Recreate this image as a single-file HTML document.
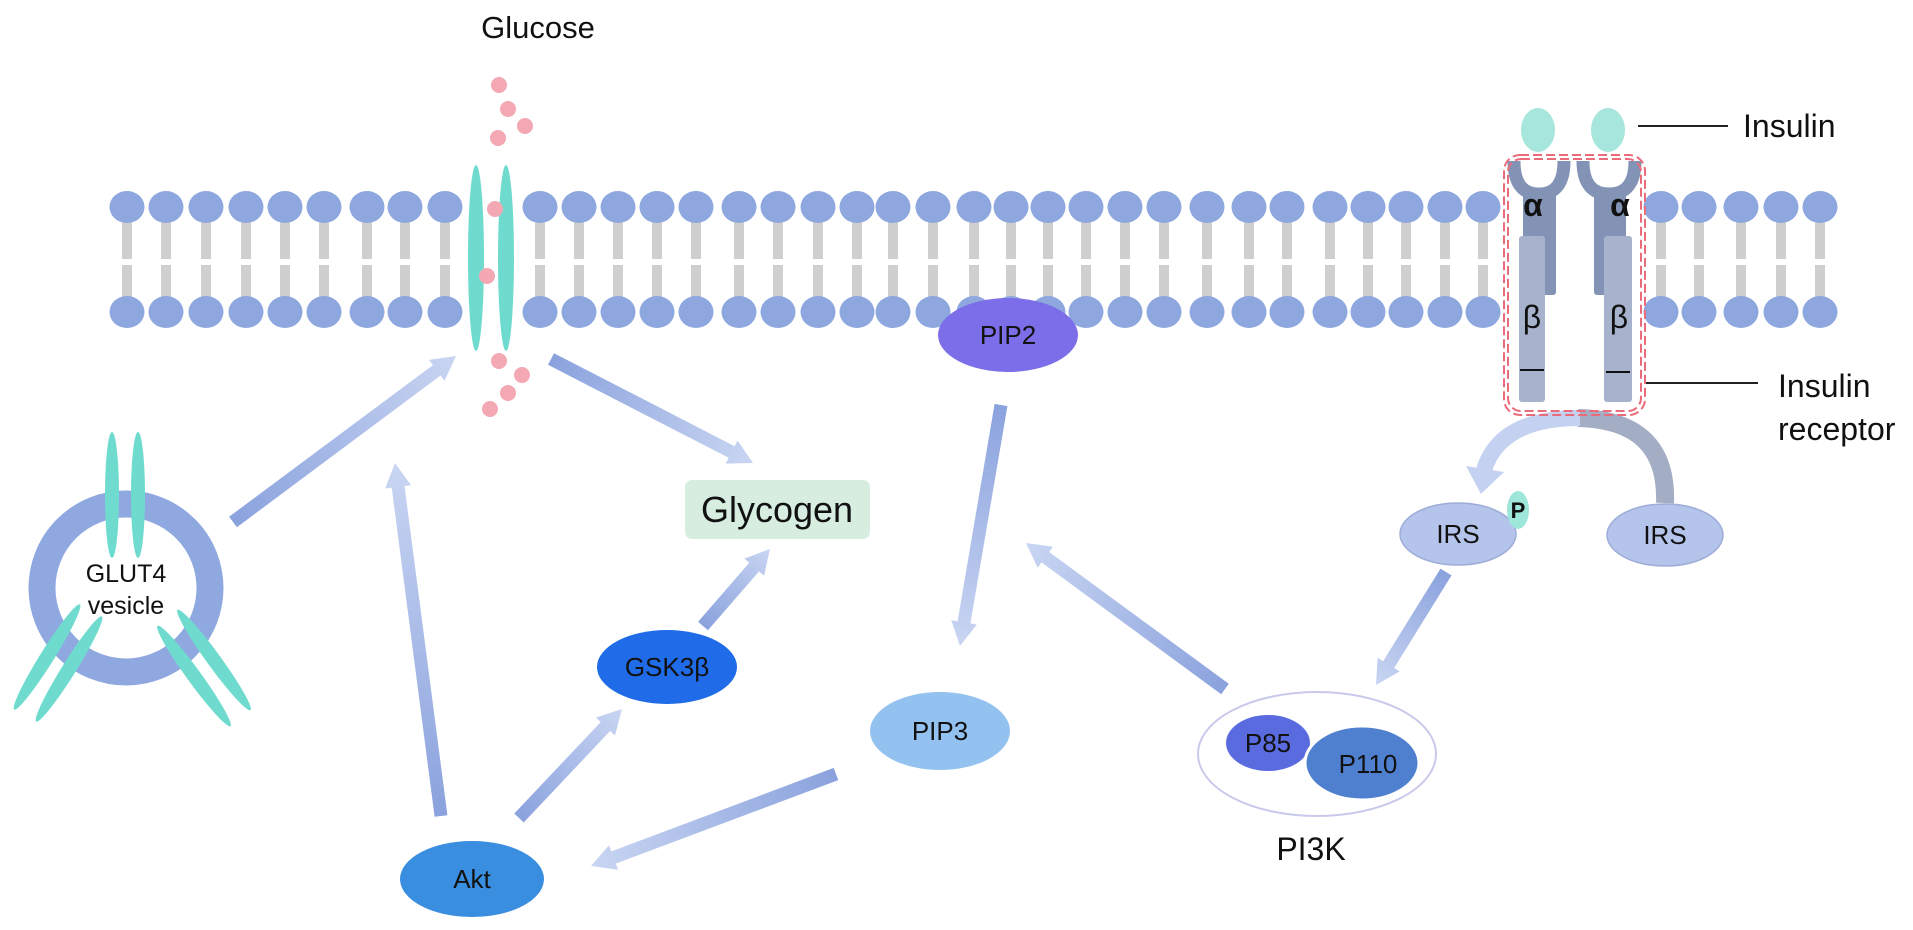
<!DOCTYPE html>
<html><head><meta charset="utf-8"><style>
html,body{margin:0;padding:0;background:#fff;}
svg{display:block;font-family:"Liberation Sans",Arial,sans-serif;}
</style></head><body>
<svg id="s" width="1913" height="930" viewBox="0 0 1913 930" xmlns="http://www.w3.org/2000/svg">
<g id="lip"></g>
<g id="arr"></g>
<!-- glucose transporter -->
<ellipse cx="476" cy="258" rx="8" ry="93" fill="#6fdbcf"/>
<ellipse cx="506" cy="258" rx="8" ry="93" fill="#6fdbcf"/>
<g fill="#f3a8b4">
<circle cx="499" cy="85" r="8"/><circle cx="508" cy="109" r="8"/><circle cx="525" cy="126" r="8"/><circle cx="498" cy="138" r="8"/>
<circle cx="495" cy="209" r="8"/><circle cx="487" cy="276" r="8"/>
<circle cx="499" cy="361" r="8"/><circle cx="522" cy="375" r="8"/><circle cx="508" cy="393" r="8"/><circle cx="490" cy="409" r="8"/>
</g>
<text x="538" y="38" font-size="31" text-anchor="middle" fill="#111">Glucose</text>
<!-- GLUT4 vesicle -->
<circle cx="126" cy="588" r="84" fill="none" stroke="#8fa8e0" stroke-width="27"/>
<ellipse cx="112" cy="495" rx="7" ry="63" fill="#6fdbcf"/>
<ellipse cx="138" cy="495" rx="7" ry="63" fill="#6fdbcf"/>
<ellipse cx="0" cy="0" rx="7" ry="62" fill="#6fdbcf" transform="translate(47,657) rotate(32)"/>
<ellipse cx="0" cy="0" rx="7" ry="62" fill="#6fdbcf" transform="translate(69,669) rotate(32)"/>
<ellipse cx="0" cy="0" rx="7" ry="62" fill="#6fdbcf" transform="translate(194,676) rotate(-36)"/>
<ellipse cx="0" cy="0" rx="7" ry="62" fill="#6fdbcf" transform="translate(214,660) rotate(-36)"/>
<text x="126" y="582" font-size="25" text-anchor="middle" fill="#111">GLUT4</text>
<text x="126" y="614" font-size="25" text-anchor="middle" fill="#111">vesicle</text>
<!-- Glycogen -->
<rect x="685" y="480" width="185" height="59" rx="7" fill="#d6eddf"/>
<text x="777" y="522" font-size="36" text-anchor="middle" fill="#111">Glycogen</text>
<!-- nodes -->
<ellipse cx="667" cy="667" rx="70" ry="37" fill="#1f6be8"/>
<text x="667" y="676" font-size="26" text-anchor="middle" fill="#111">GSK3β</text>
<ellipse cx="472" cy="879" rx="72" ry="38" fill="#3a8ee0"/>
<text x="472" y="888" font-size="26" text-anchor="middle" fill="#111">Akt</text>
<ellipse cx="940" cy="731" rx="70" ry="39" fill="#93c1f0"/>
<text x="940" y="740" font-size="26" text-anchor="middle" fill="#111">PIP3</text>
<ellipse cx="1008" cy="335" rx="70" ry="37" fill="#7b6ee8"/>
<text x="1008" y="344" font-size="26" text-anchor="middle" fill="#111">PIP2</text>
<!-- PI3K -->
<ellipse cx="1317" cy="754" rx="119" ry="62" fill="#fff" stroke="#c9c9ec" stroke-width="2"/>
<ellipse cx="1268" cy="743" rx="42" ry="28" fill="#5a6be0"/>
<ellipse cx="1362" cy="763" rx="57" ry="37" fill="#4f80d0" stroke="#fff" stroke-width="3"/>
<text x="1268" y="752" font-size="26" text-anchor="middle" fill="#111">P85</text>
<text x="1368" y="773" font-size="26" text-anchor="middle" fill="#111">P110</text>
<text x="1311" y="860" font-size="32" text-anchor="middle" fill="#111">PI3K</text>
<!-- curved arrows -->
<path d="M1665,503 Q1668,420 1578,418" fill="none" stroke="#a3adc4" stroke-width="18"/>
<path d="M1580,418 Q1500,418 1484,470" fill="none" stroke="#c5d1f0" stroke-width="16"/>
<polygon points="1466,466 1504,472 1481,494" fill="#c5d1f0"/>
<!-- IRS -->
<ellipse cx="1458" cy="534" rx="58" ry="31" fill="#b5c4ea" stroke="#9dadd8" stroke-width="1.5"/>
<text x="1458" y="543" font-size="26" text-anchor="middle" fill="#111">IRS</text>
<ellipse cx="1518" cy="510" rx="11" ry="19" fill="#9ee5da"/>
<text x="1518" y="518" font-size="22" font-weight="bold" text-anchor="middle" fill="#111">P</text>
<ellipse cx="1665" cy="535" rx="58" ry="31" fill="#b5c4ea" stroke="#9dadd8" stroke-width="1.5"/>
<text x="1665" y="544" font-size="26" text-anchor="middle" fill="#111">IRS</text>
<!-- receptor -->
<g>
<path d="M1514,161 Q1514,194 1539,194 Q1564,194 1564,161" fill="none" stroke="#8293b5" stroke-width="13"/>
<rect x="1523" y="192" width="33" height="103" rx="3" fill="#8293b5"/>
<rect x="1519" y="236" width="26" height="166" rx="3" fill="#a7b3cc"/>
<path d="M1583,161 Q1583,194 1609,194 Q1635,194 1635,161" fill="none" stroke="#8293b5" stroke-width="13"/>
<rect x="1594" y="192" width="32" height="103" rx="3" fill="#8293b5"/>
<rect x="1604" y="236" width="28" height="166" rx="3" fill="#a7b3cc"/>
<ellipse cx="1538" cy="130" rx="17" ry="22" fill="#a6e6dc"/>
<ellipse cx="1608" cy="130" rx="17" ry="22" fill="#a6e6dc"/>
<text x="1533" y="216" font-size="32" font-weight="bold" text-anchor="middle" fill="#111">α</text>
<text x="1620" y="216" font-size="32" font-weight="bold" text-anchor="middle" fill="#111">α</text>
<text x="1532" y="328" font-size="32" text-anchor="middle" fill="#111">β</text>
<text x="1619" y="328" font-size="32" text-anchor="middle" fill="#111">β</text>
<line x1="1520" y1="370" x2="1544" y2="370" stroke="#111" stroke-width="2"/>
<line x1="1606" y1="372" x2="1630" y2="372" stroke="#111" stroke-width="2"/>
<rect x="1504" y="155" width="141" height="260" rx="16" fill="none" stroke="#ea6c7a" stroke-width="2" stroke-dasharray="9,4"/>
<rect x="1508" y="159" width="133" height="252" rx="13" fill="none" stroke="#ea6c7a" stroke-width="2" stroke-dasharray="9,4"/>
</g>
<line x1="1638" y1="126" x2="1728" y2="126" stroke="#222" stroke-width="2"/>
<text x="1743" y="137" font-size="32" fill="#111">Insulin</text>
<line x1="1646" y1="383" x2="1758" y2="383" stroke="#222" stroke-width="2"/>
<text x="1778" y="397" font-size="32" fill="#111">Insulin</text>
<text x="1778" y="440" font-size="32" fill="#111">receptor</text>
<defs id="defs"></defs>
</svg>
<script>
var NS="http://www.w3.org/2000/svg";
function el(t,a,p){var e=document.createElementNS(NS,t);for(var k in a)e.setAttribute(k,a[k]);p.appendChild(e);return e;}
var lip=document.getElementById('lip');
var xs=[127,166,206,246,285,324,367,405,445,540,579,618,657,696,739,778,818,857,893,933,974,1011,1048,1086,1125,1164,1207,1249,1287,1330,1368,1406,1445,1483,1661,1699,1741,1781,1820];
xs.forEach(function(x){
 el('rect',{x:x-5,y:222,width:10,height:37,fill:'#cfcfcf'},lip);
 el('rect',{x:x-5,y:265,width:10,height:34,fill:'#cfcfcf'},lip);
 el('ellipse',{cx:x,cy:207,rx:17.5,ry:16,fill:'#8ea7df'},lip);
 el('ellipse',{cx:x,cy:312,rx:17.5,ry:16,fill:'#8ea7df'},lip);
});
var defs=document.getElementById('defs'),arr=document.getElementById('arr');
var A=[[233,522,456,356],[551,359,753,463],[441,816,395,463],[519,818,622,709],[703,626,770,549],[836,774,591,866],[1001,405,960,646],[1225,689,1026,543],[1446,572,1376,685]];
A.forEach(function(a,i){
 var x1=a[0],y1=a[1],x2=a[2],y2=a[3];
 var g=el('linearGradient',{id:'g'+i,gradientUnits:'userSpaceOnUse',x1:x1,y1:y1,x2:x2,y2:y2},defs);
 el('stop',{offset:'0','stop-color':'#8aa2dd'},g);el('stop',{offset:'1','stop-color':'#c9d5f2'},g);
 var dx=x2-x1,dy=y2-y1,L=Math.sqrt(dx*dx+dy*dy),ux=dx/L,uy=dy/L,nx=-uy,ny=ux;
 var w=6.5,hw=13,hl=24;var bx=x2-ux*hl,by=y2-uy*hl;
 var p=[[x1+nx*w,y1+ny*w],[bx+nx*w,by+ny*w],[bx+nx*hw,by+ny*hw],[x2,y2],[bx-nx*hw,by-ny*hw],[bx-nx*w,by-ny*w],[x1-nx*w,y1-ny*w]];
 el('polygon',{points:p.map(function(q){return q[0].toFixed(1)+','+q[1].toFixed(1)}).join(' '),fill:'url(#g'+i+')'},arr);
});
</script>
</body></html>
